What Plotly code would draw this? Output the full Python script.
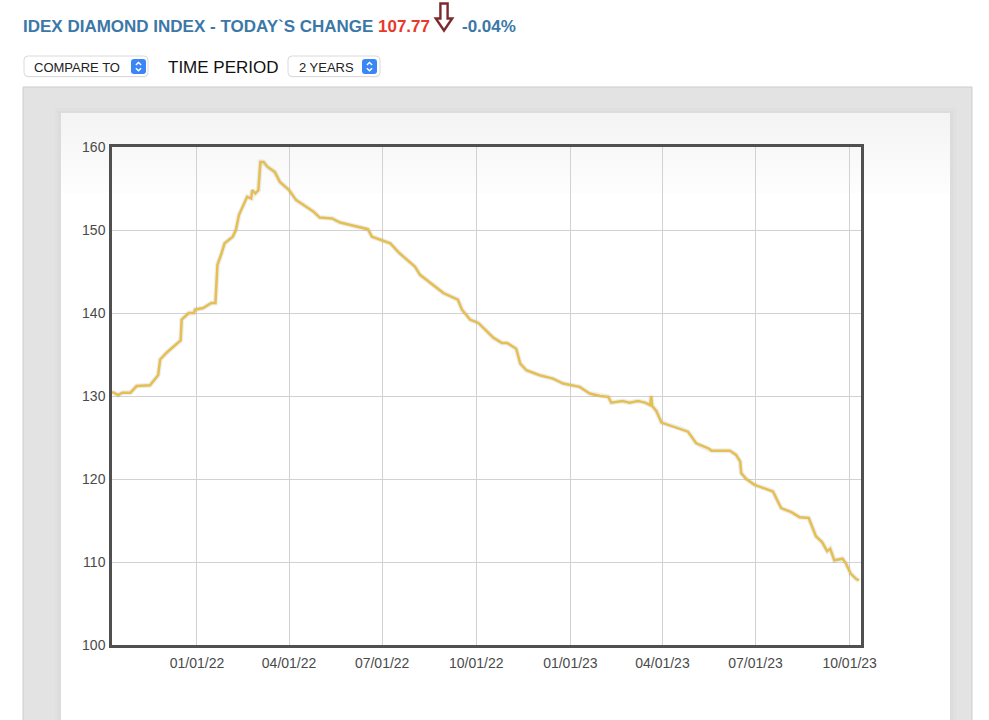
import plotly.graph_objects as go

# ---------------- data ----------------
dates = [
    "2021-10-10", "2021-10-16", "2021-10-20", "2021-10-28", "2021-11-03", "2021-11-16",
    "2021-11-24", "2021-11-26", "2021-12-03", "2021-12-14", "2021-12-16", "2021-12-17",
    "2021-12-24", "2021-12-29", "2021-12-30", "2022-01-07", "2022-01-15", "2022-01-19",
    "2022-01-21", "2022-01-25", "2022-01-28", "2022-02-05", "2022-02-08", "2022-02-11",
    "2022-02-17", "2022-02-19", "2022-02-23", "2022-02-24", "2022-02-27", "2022-03-02",
    "2022-03-04", "2022-03-07", "2022-03-11", "2022-03-18", "2022-03-23", "2022-04-01",
    "2022-04-08", "2022-04-25", "2022-05-01", "2022-05-13", "2022-05-21", "2022-05-31",
    "2022-06-09", "2022-06-17", "2022-06-21", "2022-06-30", "2022-07-09", "2022-07-18",
    "2022-08-02", "2022-08-07", "2022-08-17", "2022-08-30", "2022-09-13", "2022-09-17",
    "2022-09-25", "2022-10-03", "2022-10-18", "2022-10-26", "2022-10-31", "2022-11-09",
    "2022-11-13", "2022-11-19", "2022-12-02", "2022-12-15", "2022-12-25", "2023-01-10",
    "2023-01-20", "2023-01-30", "2023-02-07", "2023-02-10", "2023-02-21", "2023-02-28",
    "2023-03-08", "2023-03-15", "2023-03-20", "2023-03-21", "2023-03-22", "2023-03-26",
    "2023-03-31", "2023-04-18", "2023-04-26", "2023-05-04", "2023-05-16", "2023-05-19",
    "2023-06-06", "2023-06-12", "2023-06-16", "2023-06-17", "2023-06-22", "2023-06-30",
    "2023-07-12", "2023-07-18", "2023-07-26", "2023-08-05", "2023-08-13", "2023-08-22",
    "2023-08-29", "2023-09-04", "2023-09-09", "2023-09-12", "2023-09-16", "2023-09-24",
    "2023-09-27", "2023-10-02", "2023-10-07", "2023-10-10",
]
values = [
    130.5, 130.1, 130.4, 130.4, 131.2, 131.3,
    132.5, 134.4, 135.3, 136.4, 136.7, 139.2,
    140.0, 140.0, 140.4, 140.6, 141.2, 141.2,
    145.8, 147.2, 148.4, 149.2, 150.0, 151.8,
    153.6, 154.0, 153.8, 154.8, 154.4, 154.8,
    158.2, 158.2, 157.6, 157.0, 155.8, 154.8,
    153.6, 152.2, 151.5, 151.4, 150.9, 150.6,
    150.3, 150.1, 149.2, 148.8, 148.4, 147.2,
    145.6, 144.6, 143.6, 142.4, 141.6, 140.4,
    139.2, 138.8, 137.0, 136.4, 136.4, 135.7,
    133.9, 133.1, 132.5, 132.1, 131.5, 131.1,
    130.3, 130.0, 129.9, 129.2, 129.4, 129.2,
    129.4, 129.2, 128.9, 130.0, 128.8, 128.2,
    126.8, 126.1, 125.7, 124.3, 123.7, 123.4,
    123.4, 122.9, 122.1, 120.7, 120.0, 119.3,
    118.8, 118.5, 116.5, 116.0, 115.4, 115.3,
    113.1, 112.4, 111.3, 111.6, 110.2, 110.4,
    109.9, 108.6, 108.0, 107.77,
]
x_tick_vals = ["2022-01-01", "2022-04-01", "2022-07-01", "2022-10-01",
               "2023-01-01", "2023-04-01", "2023-07-01", "2023-10-01"]
x_tick_text = ["01/01/22", "04/01/22", "07/01/22", "10/01/22",
               "01/01/23", "04/01/23", "07/01/23", "10/01/23"]
y_tick_vals = [100, 110, 120, 130, 140, 150, 160]

title_text = "IDEX DIAMOND INDEX - TODAY`S CHANGE"
last_value = "107.77"
change_text = "-0.04%"

# ---------------- geometry helpers ----------------
W, H = 989, 720
ML, MR, MT, MB = 112, 128, 147, 75
PW = W - ML - MR
PH = H - MT - MB


def px(x):
    return (x - ML) / PW


def py(y):
    return (H - MB - y) / PH


def rrect(x0, y0, x1, y1, r):
    pts = [
        f"M {px(x0 + r)} {py(y0)}",
        f"L {px(x1 - r)} {py(y0)}",
        f"Q {px(x1)} {py(y0)} {px(x1)} {py(y0 + r)}",
        f"L {px(x1)} {py(y1 - r)}",
        f"Q {px(x1)} {py(y1)} {px(x1 - r)} {py(y1)}",
        f"L {px(x0 + r)} {py(y1)}",
        f"Q {px(x0)} {py(y1)} {px(x0)} {py(y1 - r)}",
        f"L {px(x0)} {py(y0 + r)}",
        f"Q {px(x0)} {py(y0)} {px(x0 + r)} {py(y0)}",
        "Z",
    ]
    return " ".join(pts)


def poly(points, close=False):
    s = "M " + " L ".join(f"{px(a)} {py(b)}" for a, b in points)
    return s + (" Z" if close else "")


FONT = "Liberation Sans, Arial, Helvetica, sans-serif"

fig = go.Figure()
fig.add_trace(go.Scatter(
    x=dates, y=values, mode="lines",
    line=dict(color="rgba(0,0,0,0.07)", width=5),
    hoverinfo="skip", showlegend=False,
))
fig.add_trace(go.Scatter(
    x=dates, y=values, mode="lines",
    line=dict(color="#E5BF4F", width=2.5),
    showlegend=False, name="IDEX Diamond Index",
))

shapes = []
# grey panel
shapes.append(dict(type="rect", xref="paper", yref="paper", layer="below",
                   x0=px(23), x1=px(972), y0=py(87), y1=py(740),
                   fillcolor="#e3e3e3", line=dict(color="#cdcdcd", width=1)))
# soft shadow around card
shapes.append(dict(type="rect", xref="paper", yref="paper", layer="below",
                   x0=px(55), x1=px(956), y0=py(108), y1=py(740),
                   fillcolor="#e0e0e0", line=dict(width=0)))
shapes.append(dict(type="rect", xref="paper", yref="paper", layer="below",
                   x0=px(58), x1=px(953), y0=py(111), y1=py(740),
                   fillcolor="#dcdcdc", line=dict(width=0)))
# card
shapes.append(dict(type="rect", xref="paper", yref="paper", layer="below",
                   x0=px(61), x1=px(950), y0=py(113), y1=py(740),
                   fillcolor="#ffffff", line=dict(width=0)))
# gradient at top of card
grad = ["#f4f4f4", "#f5f5f5", "#f6f6f6", "#f7f7f7", "#f8f8f8", "#f9f9f9",
        "#fafafa", "#fbfbfb", "#fcfcfc", "#fdfdfd"]
band_top = 113
band_h = 8
for i, c in enumerate(grad):
    shapes.append(dict(type="rect", xref="paper", yref="paper", layer="below",
                       x0=px(61), x1=px(950), y0=py(band_top + i * band_h),
                       y1=py(band_top + (i + 1) * band_h),
                       fillcolor=c, line=dict(width=0)))

# dropdown boxes
for (bx0, bx1, ix0, ix1) in [(24, 148, 131, 146), (288, 380, 362, 377)]:
    shapes.append(dict(type="path", xref="paper", yref="paper", path=rrect(bx0, 57.5, bx1, 77.5, 4),
                       fillcolor="rgba(0,0,0,0.05)", line=dict(width=0)))
    shapes.append(dict(type="path", xref="paper", yref="paper", path=rrect(bx0, 56, bx1, 76.5, 4),
                       fillcolor="#ffffff", line=dict(color="#dadada", width=1)))
    shapes.append(dict(type="path", xref="paper", yref="paper", path=rrect(ix0, 59, ix1, 74, 3),
                       fillcolor="#3b86f7", line=dict(width=0)))
    cx = (ix0 + ix1) / 2
    shapes.append(dict(type="path", xref="paper", yref="paper",
                       path=poly([(cx - 2.6, 65.0), (cx, 62.4), (cx + 2.6, 65.0)]),
                       line=dict(color="#ffffff", width=1.4)))
    shapes.append(dict(type="path", xref="paper", yref="paper",
                       path=poly([(cx - 2.6, 68.2), (cx, 70.8), (cx + 2.6, 68.2)]),
                       line=dict(color="#ffffff", width=1.4)))

# hollow down arrow next to the value
acx = 444.0
shapes.append(dict(type="path", xref="paper", yref="paper",
                   path=poly([(acx - 3.6, 3.5), (acx + 3.6, 3.5), (acx + 3.6, 18.5),
                              (acx + 8.2, 18.5), (acx, 30.5), (acx - 8.2, 18.5),
                              (acx - 3.6, 18.5)], close=True),
                   fillcolor="#ffffff", line=dict(color="#7d2a2e", width=2.4)))

annotations = []


def add_text(text, x, y, size, color, anchor="left", family=FONT):
    annotations.append(dict(text=text, x=px(x), y=py(y), xref="paper", yref="paper",
                            xanchor=anchor, yanchor="middle", showarrow=False,
                            font=dict(family=family, size=size, color=color)))


add_text(f"<b>{title_text}</b>", 21, 26, 17, "#3b78a8")
add_text(f"<b>{last_value}</b>", 376, 26, 17, "#e8392b")
add_text(f"<b>{change_text}</b>", 459.5, 26, 17, "#3b78a8")
add_text("COMPARE TO", 32, 67, 13, "#222222")
add_text("TIME PERIOD", 166, 67, 17, "#111111")
add_text("2 YEARS", 296.5, 67, 13, "#222222")

fig.update_layout(
    width=W, height=H,
    margin=dict(l=ML, r=MR, t=MT, b=MB, pad=0),
    paper_bgcolor="#ffffff",
    plot_bgcolor="#ffffff",
    font=dict(family=FONT, size=14, color="#4a4a4a"),
    shapes=shapes,
    annotations=annotations,
    showlegend=False,
    xaxis=dict(
        type="date",
        range=["2021-10-09 22:00", "2023-10-12 02:00"],
        tickmode="array", tickvals=x_tick_vals, ticktext=x_tick_text,
        showgrid=True, gridcolor="#d2d2d2", gridwidth=1,
        showline=True, linecolor="#505050", linewidth=2.5, mirror=True,
        ticks="", zeroline=False, ticklabelstandoff=3,
        tickfont=dict(family=FONT, size=14, color="#4a4a4a"),
    ),
    yaxis=dict(
        range=[100, 160],
        tickmode="array", tickvals=y_tick_vals,
        showgrid=True, gridcolor="#d2d2d2", gridwidth=1,
        showline=True, linecolor="#505050", linewidth=2.5, mirror=True,
        ticks="", zeroline=False, ticklabelstandoff=1,
        tickfont=dict(family=FONT, size=14, color="#4a4a4a"),
    ),
)

fig.write_html("out.html", config={"displayModeBar": False},
               post_script="document.body.style.margin='0';")
